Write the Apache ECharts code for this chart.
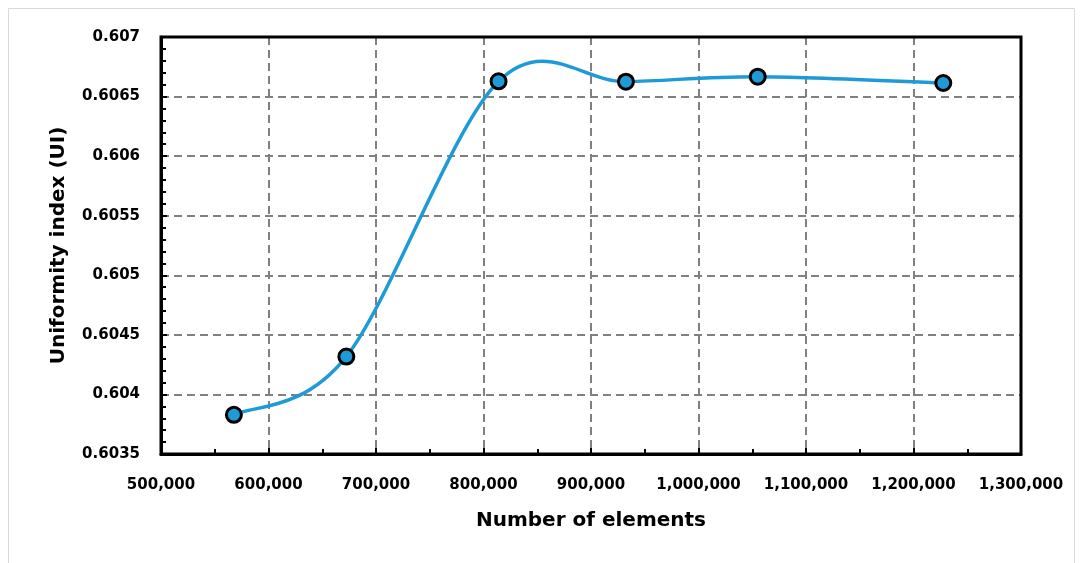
<!DOCTYPE html>
<html><head><meta charset="utf-8">
<script src="https://cdn.jsdelivr.net/npm/echarts@6/dist/echarts.min.js"></script>
<style>html,body{margin:0;padding:0;background:#fff}#c{width:1083px;height:563px}</style>
</head><body><div id="c"></div>
<script>
const elements = [567800, 672400, 814000, 932500, 1055100, 1227700];
const uniformity = [0.603829, 0.604318, 0.606628, 0.606625, 0.606667, 0.606614];
const xTitle = 'Number of elements';
const yTitle = 'Uniformity index (UI)';
const FONT = 'DejaVu Sans';
const BLUE = '#1E9BD7';

const points = elements.map((x,i)=>[x, uniformity[i]]);

// Excel-style smoothed line (Catmull-Rom Bezier) drawn in pixel space via the axes' scales
function renderSmooth(params, api){
  if (params.dataIndex !== 0) return null;
  const p = points.map(d => api.coord(d));
  const n = p.length;
  const children = [];
  for (let i = 0; i < n-1; i++){
    const p0 = p[Math.max(i-1,0)], p1 = p[i], p2 = p[i+1], p3 = p[Math.min(i+2,n-1)];
    children.push({
      type:'bezierCurve',
      shape:{
        x1:p1[0], y1:p1[1], x2:p2[0], y2:p2[1],
        cpx1:p1[0]+(p2[0]-p0[0])/6, cpy1:p1[1]+(p2[1]-p0[1])/6,
        cpx2:p2[0]-(p3[0]-p1[0])/6, cpy2:p2[1]-(p3[1]-p1[1])/6
      },
      style:{stroke:BLUE, lineWidth:3.5, fill:null, lineCap:'round'}
    });
  }
  return {type:'group', children};
}

const chart = echarts.init(document.getElementById('c'), null, {renderer:'canvas'});
const gridLine = {show:true, showMinLine:false, showMaxLine:false, lineStyle:{color:'#808080', width:2, type:[8,5]}};
chart.setOption({
  animation:false,
  backgroundColor:'#fff',
  graphic:[{type:'rect', shape:{x:8.5,y:8.5,width:1066,height:600}, style:{fill:'none', stroke:'#d9d9d9', lineWidth:1}, z:-1}],
  grid:{left:161, right:62, top:37, bottom:109, show:true, borderColor:'#000', borderWidth:3, z:3},
  xAxis:{
    type:'value', min:500000, max:1300000, interval:100000,
    name:xTitle, nameLocation:'middle', nameGap:57,
    nameTextStyle:{fontFamily:FONT, fontWeight:'bold', fontSize:20, color:'#000'},
    axisLine:{show:true, lineStyle:{color:'#000', width:3}},
    axisTick:{show:true, inside:true, length:6, lineStyle:{color:'#000', width:2}},
    minorTick:{show:true, splitNumber:2, length:5, lineStyle:{color:'#000', width:2}},
    splitLine:gridLine,
    axisLabel:{fontFamily:FONT, fontWeight:'bold', fontSize:15, color:'#000', margin:24,
      formatter:v=>v.toLocaleString('en-US')}
  },
  yAxis:{
    type:'value', min:0.6035, max:0.607, interval:0.0005,
    name:yTitle, nameLocation:'middle', nameGap:92,
    nameTextStyle:{fontFamily:FONT, fontWeight:'bold', fontSize:20, color:'#000'},
    axisLine:{show:true, lineStyle:{color:'#000', width:3}},
    axisTick:{show:true, inside:true, length:6, lineStyle:{color:'#000', width:2}},
    minorTick:{show:true, splitNumber:5, length:5, lineStyle:{color:'#000', width:2}},
    splitLine:gridLine,
    axisLabel:{fontFamily:FONT, fontWeight:'bold', fontSize:15, color:'#000', margin:21,
      formatter:v=>String(parseFloat(v.toFixed(4)))}
  },
  series:[
    {type:'custom', renderItem:renderSmooth, data:points, z:4, silent:true},
    {
      type:'scatter', data:points,
      symbol:'circle', symbolSize:15,
      itemStyle:{color:BLUE, borderColor:'#000', borderWidth:3, opacity:1},
      z:5
    }
  ]
});
</script></body></html>
